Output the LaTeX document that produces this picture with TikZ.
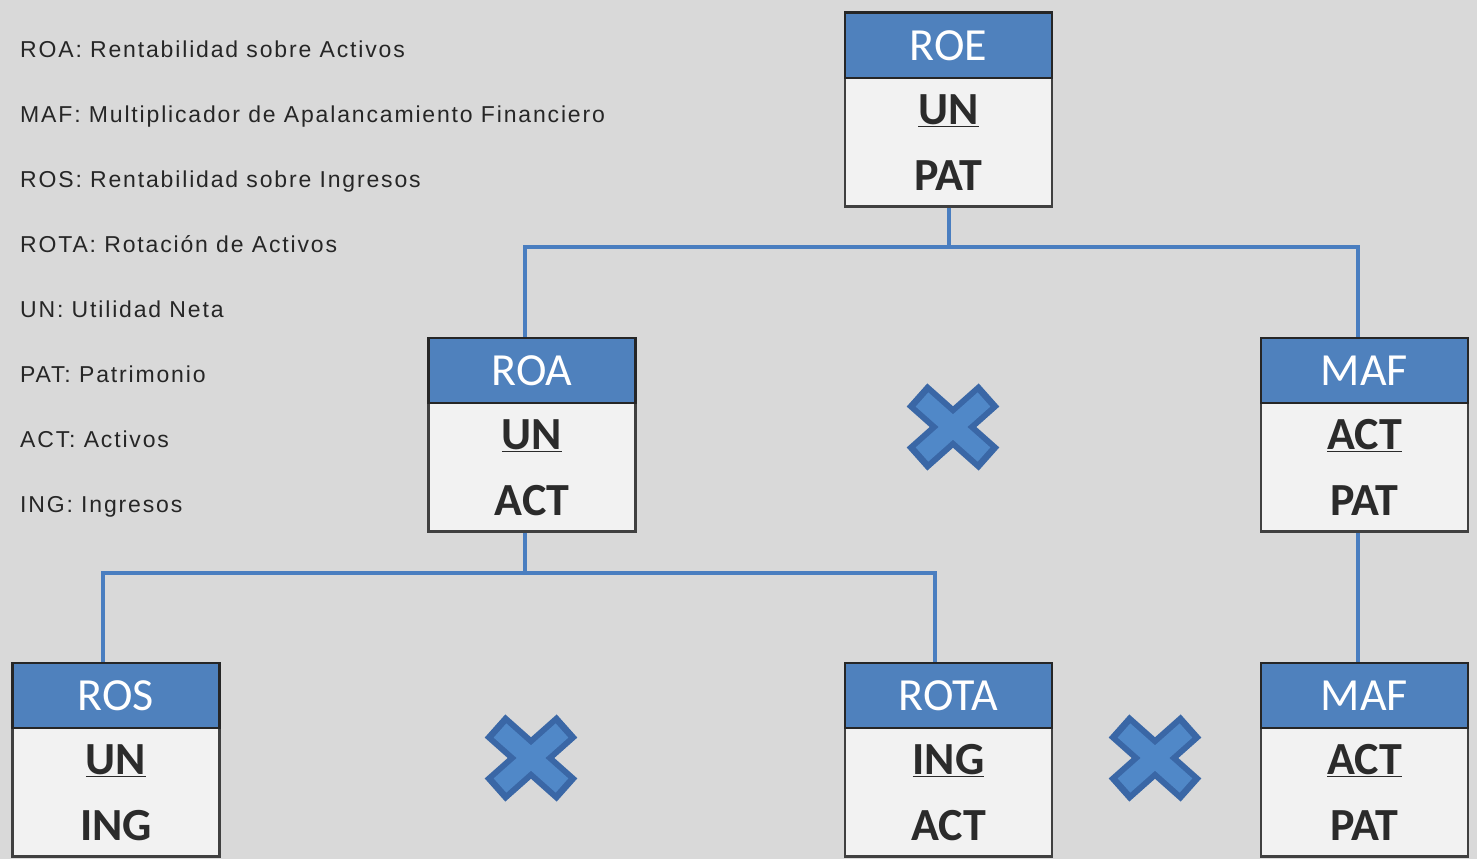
\documentclass[tikz,border=0pt]{standalone}
\usepackage{fontspec}
\setmainfont{Carlito}
\newfontfamily\legendfont[LetterSpace=8]{Liberation Sans}
\definecolor{bgGray}{HTML}{D9D9D9}
\definecolor{headBlue}{HTML}{4F81BD}
\definecolor{bodyGray}{HTML}{F2F2F2}
\definecolor{lineBlue}{HTML}{4A7EC0}
\definecolor{crossDark}{HTML}{3A67A6}
\definecolor{crossLight}{HTML}{5088C8}
\definecolor{textDark}{HTML}{2B2B2B}
\tikzset{
  headbox/.style={draw=black!85, line width=2.5pt, fill=headBlue, minimum width=207pt,
    minimum height=65pt, inner sep=0pt, text=white,
    font=\fontsize{46}{55}\selectfont, anchor=north},
  bodybox/.style={draw=black!75, line width=2.5pt, fill=bodyGray, minimum width=207pt,
    minimum height=130pt, inner sep=0pt, anchor=north},
  termtext/.style={text=textDark, font=\bfseries\fontsize{46}{55}\selectfont, inner sep=0pt},
  link/.style={draw=lineBlue, line width=4pt},
  legend/.style={anchor=base west, inner sep=0pt, text=black!85, font=\legendfont\fontsize{23}{28}\selectfont}
}
% ratio box: name, centre x, top y, title, numerator, denominator
\newcommand\ratiobox[6]{%
  \node[bodybox] (#1-b) at (#2,#3+65) {};
  \node[headbox] (#1) at (#2,#3+1.5) {#4};
  \node[termtext] (#1-n) at (#2,#3+101) {\underline{#5}};
  \node[termtext] (#1-d) at (#2,#3+166) {#6};
}
% multiplication sign between factors
\newcommand\timesmark[2]{%
  \begin{scope}[shift={(#1,#2)}]
    \draw[crossDark, line width=31pt] (-36,-32) -- (36,32) (-36,32) -- (36,-32);
    \draw[crossLight, line width=19pt] (-31,-27.5) -- (31,27.5) (-31,27.5) -- (31,-27.5);
  \end{scope}}
\begin{document}
\begin{tikzpicture}[x=1pt,y=-1pt]
  \fill[bgGray] (0,0) rectangle (1477,859);
  \useasboundingbox (0,0) rectangle (1477,859);

  % legend
  \node[legend] (l1) at (20,57) {ROA: Rentabilidad sobre Activos};
  \node[legend] (l2) at (20,122) {MAF: Multiplicador de Apalancamiento Financiero};
  \node[legend] (l3) at (20,187) {ROS: Rentabilidad sobre Ingresos};
  \node[legend] (l4) at (20,252) {ROTA: Rotación de Activos};
  \node[legend] (l5) at (20,317) {UN: Utilidad Neta};
  \node[legend] (l6) at (20,382) {PAT: Patrimonio};
  \node[legend] (l7) at (20,447) {ACT: Activos};
  \node[legend] (l8) at (20,512) {ING: Ingresos};

  % bus junctions
  \coordinate (busA) at (948.5,247);
  \coordinate (busAL) at (525,247);
  \coordinate (busAR) at (1358,247);
  \coordinate (busB) at (525,573);
  \coordinate (busBL) at (103,573);
  \coordinate (busBR) at (935,573);

  % boxes
  \ratiobox{roe}{948.5}{10}{ROE}{UN}{PAT}
  \ratiobox{roa}{532}{335}{ROA}{UN}{ACT}
  \ratiobox{maf}{1364.5}{335}{MAF}{ACT}{PAT}
  \ratiobox{ros}{116}{660}{ROS}{UN}{ING}
  \ratiobox{rota}{948.5}{660}{ROTA}{ING}{ACT}
  \ratiobox{mafb}{1364.5}{660}{MAF}{ACT}{PAT}

  % connectors
  \draw[link] (roe-b.south) -- (busA);
  \draw[link] (busAL |- roa.north) -- (busAL) -- (busAR) -- (busAR |- maf.north);
  \draw[link] (busB |- roa-b.south) -- (busB);
  \draw[link] (busBL |- ros.north) -- (busBL) -- (busBR) -- (busBR |- rota.north);
  \draw[link] (busAR |- maf-b.south) -- (busAR |- mafb.north);

  % multiplication signs
  \timesmark{953}{427}
  \timesmark{531}{758}
  \timesmark{1155}{758}
\end{tikzpicture}
\end{document}
